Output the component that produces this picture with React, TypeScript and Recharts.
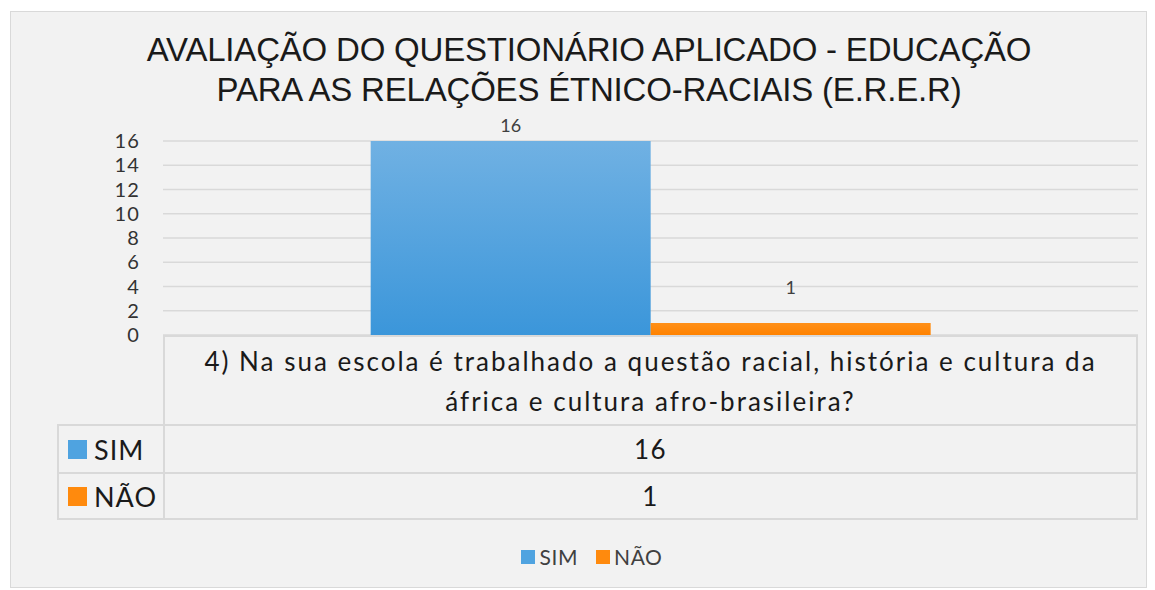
import React from 'react';
import { BarChart, Bar, XAxis, YAxis, CartesianGrid, LabelList } from 'recharts';

const titleLines = ['AVALIAÇÃO DO QUESTIONÁRIO APLICADO - EDUCAÇÃO', 'PARA AS RELAÇÕES ÉTNICO-RACIAIS (E.R.E.R)'];
const categories = ['4) Na sua escola é trabalhado a questão racial, história e cultura da áfrica e cultura afro-brasileira?'];
const seriesNames = ['SIM', 'NÃO'];
const simValues = [16];
const naoValues = [1];
const yTicks = [0, 2, 4, 6, 8, 10, 12, 14, 16];
const seriesColors = ['#4fa3e0', '#ff8a0d'];

const data = categories.map((c, i) => ({ category: c, SIM: simValues[i], NAO: naoValues[i] }));
const seriesValues = [simValues, naoValues];

const W = 1155;
const H = 590;
const PL = 163;
const PR = 1138;
const PT = 141;
const PB = 335;
const HEADER_B = 424;
const ROW_H = 48;
const TABLE_L = 57;
const BORDER = '#d9d9d9';
const FONT = 'Lato, "Open Sans", sans-serif';

export default function App() {
  return (
    <div style={{ position: 'absolute', left: 0, top: 0, width: W, height: H, background: '#ffffff', overflow: 'hidden' }}>
      <div style={{ position: 'absolute', left: 10, top: 11, width: 1137, height: 577, background: '#f2f2f2', border: '1px solid #d9d9d9', boxSizing: 'border-box' }} />
      <div style={{ position: 'absolute', left: 0, top: 0 }}>
        <BarChart width={W} height={H} data={data} margin={{ top: PT, left: PL - 60, right: W - PR, bottom: H - PB }} barCategoryGap="21.3%" barGap={0}>
          <defs>
            <linearGradient id="gSim" x1="0" y1="0" x2="0" y2="1">
              <stop offset="0%" stopColor="#70b1e3" />
              <stop offset="100%" stopColor="#3b96da" />
            </linearGradient>
            <linearGradient id="gNao" x1="0" y1="0" x2="0" y2="1">
              <stop offset="0%" stopColor="#ff9018" />
              <stop offset="100%" stopColor="#ff8200" />
            </linearGradient>
          </defs>
          <CartesianGrid vertical={false} stroke={BORDER} strokeWidth={1.5} />
          <XAxis dataKey="category" hide />
          <YAxis width={60} domain={[0, 16]} ticks={yTicks} axisLine={false} tickLine={false} tickSize={18} tickMargin={5}
            tick={{ fill: '#333333', fontSize: 20, fontFamily: FONT, letterSpacing: 1.2 }} interval={0} />
          <Bar dataKey="SIM" name={seriesNames[0]} fill="url(#gSim)" isAnimationActive={false}>
            <LabelList dataKey="SIM" position="top" offset={9} fill="#404040" fontSize={18} fontFamily={FONT} />
          </Bar>
          <Bar dataKey="NAO" name={seriesNames[1]} fill="url(#gNao)" isAnimationActive={false}>
            <LabelList dataKey="NAO" position="top" offset={29} fill="#404040" fontSize={18} fontFamily={FONT} />
          </Bar>
        </BarChart>
      </div>
      {/* title */}
      <div style={{ position: 'absolute', left: 0, top: 30, width: 1178, textAlign: 'center', fontFamily: '"Liberation Sans", Arial, sans-serif', fontSize: 33, lineHeight: '40px', color: '#1a1a1a', letterSpacing: -0.2 }}>
        {titleLines.map((l, i) => <div key={i}>{l}</div>)}
      </div>
      {/* data table */}
      <div style={{ position: 'absolute', left: PL, top: PB, width: PR - PL, height: HEADER_B - PB, borderTop: `2px solid ${BORDER}`, borderLeft: `2px solid ${BORDER}`, borderRight: `2px solid ${BORDER}`, boxSizing: 'border-box', display: 'flex', justifyContent: 'center' }}>
        <div style={{ width: 905, textAlign: 'center', fontFamily: FONT, fontSize: 26, letterSpacing: 2.0, lineHeight: '40px', color: '#1a1a1a', paddingTop: 4 }}>{categories[0]}</div>
      </div>
      {seriesNames.map((name, i) => (
        <React.Fragment key={name}>
          <div style={{ position: 'absolute', left: TABLE_L, top: HEADER_B + i * ROW_H, width: PL - TABLE_L, height: ROW_H, borderTop: `2px solid ${BORDER}`, borderLeft: `2px solid ${BORDER}`, borderBottom: i === seriesNames.length - 1 ? `2px solid ${BORDER}` : 'none', boxSizing: 'border-box', display: 'flex', alignItems: 'center', fontFamily: FONT, fontSize: 27, letterSpacing: 1, color: '#1a1a1a' }}>
            <span style={{ display: 'inline-block', width: 19, height: 19, background: seriesColors[i], marginLeft: 9, marginRight: 7 }} />
            {name}
          </div>
          <div style={{ position: 'absolute', left: PL, top: HEADER_B + i * ROW_H, width: PR - PL, height: ROW_H, borderTop: `2px solid ${BORDER}`, borderLeft: `2px solid ${BORDER}`, borderRight: `2px solid ${BORDER}`, borderBottom: i === seriesNames.length - 1 ? `2px solid ${BORDER}` : 'none', boxSizing: 'border-box', display: 'flex', alignItems: 'center', justifyContent: 'center', fontFamily: FONT, fontSize: 26, letterSpacing: 1.4, color: '#1a1a1a' }}>
            {seriesValues[i][0]}
          </div>
        </React.Fragment>
      ))}
      {/* legend */}
      <div style={{ position: 'absolute', left: 0, top: 544, width: 1184, display: 'flex', justifyContent: 'center', fontFamily: FONT, fontSize: 21, letterSpacing: 0.6, color: '#404040' }}>
        {seriesNames.map((name, i) => (
          <div key={name} style={{ display: 'flex', alignItems: 'center', marginRight: i === 0 ? 18 : 0 }}>
            <span style={{ display: 'inline-block', width: 14, height: 14, background: seriesColors[i], marginRight: 4 }} />
            {name}
          </div>
        ))}
      </div>
    </div>
  );
}
